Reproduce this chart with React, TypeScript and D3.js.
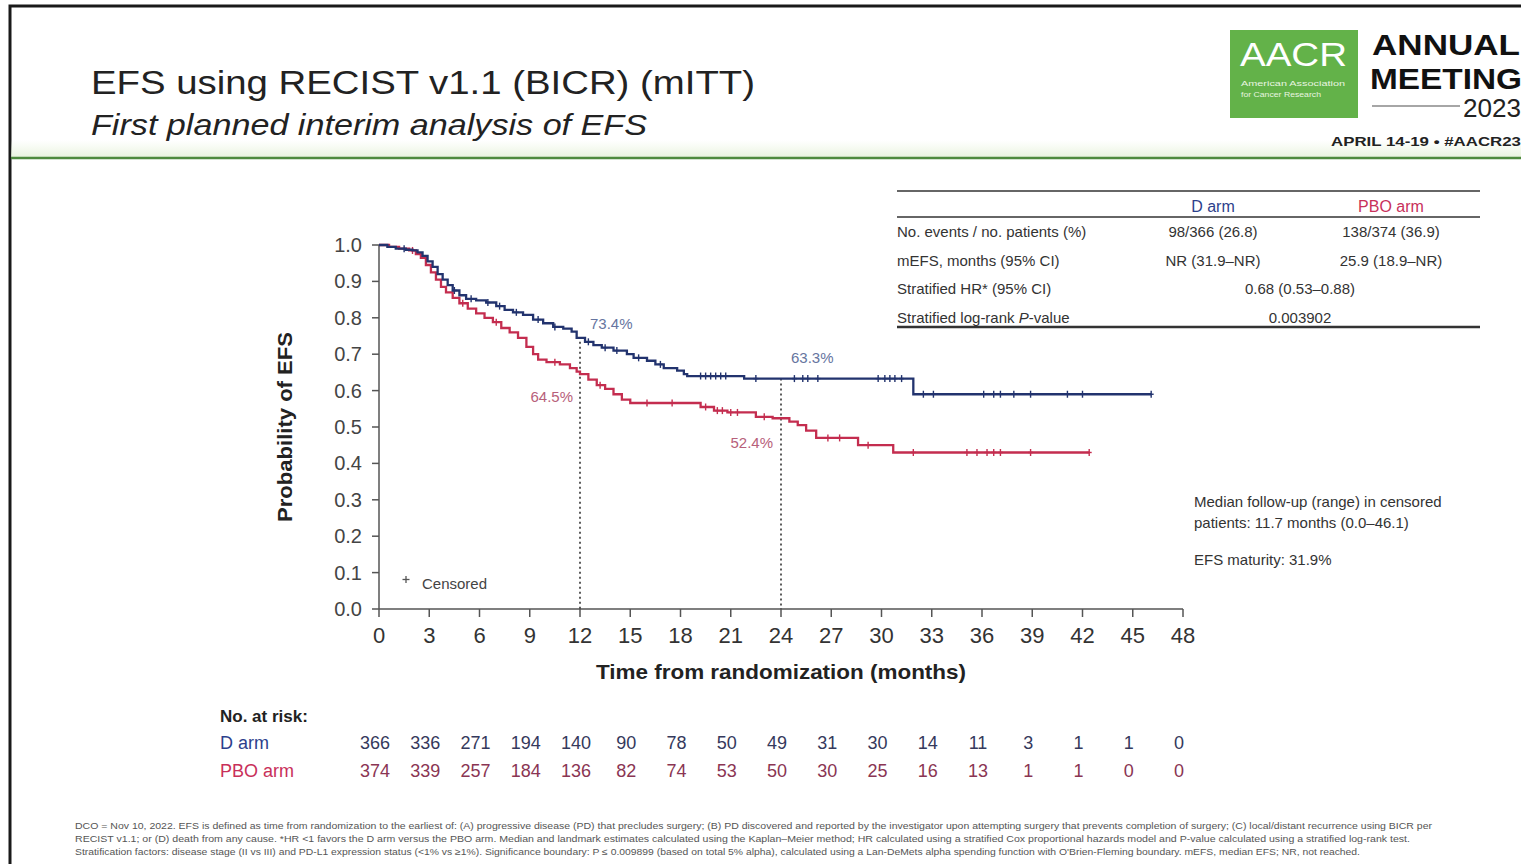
import React from "react";
import * as d3 from "d3";

const W = 1521;
const H = 864;
const FONT = "'Liberation Sans', Arial, Helvetica, sans-serif";

// Axis ticks
const xTicks = [0, 3, 6, 9, 12, 15, 18, 21, 24, 27, 30, 33, 36, 39, 42, 45, 48];
const yTicks = [0, 0.1, 0.2, 0.3, 0.4, 0.5, 0.6, 0.7, 0.8, 0.9, 1.0];
const yTickLabels = ["0.0", "0.1", "0.2", "0.3", "0.4", "0.5", "0.6", "0.7", "0.8", "0.9", "1.0"];

// Kaplan–Meier steps, D arm (time in months, survival after the step)
const dArmTimes = [0, 0.5, 1.0, 1.6, 2.0, 2.3, 2.6, 2.9, 3.2, 3.5, 3.8, 4.1, 4.4, 4.8, 5.2, 5.8, 6.4, 7.0, 7.5, 8.0, 8.6, 9.2, 9.8, 10.4, 11.0, 11.5, 11.8, 12.3, 12.8, 13.3, 14.0, 14.8, 15.2, 16.0, 16.5, 17.0, 17.8, 18.2, 18.4, 21.8, 31.9];
const dArmSurv = [1.0, 0.995, 0.99, 0.987, 0.985, 0.98, 0.97, 0.955, 0.94, 0.92, 0.905, 0.89, 0.875, 0.862, 0.852, 0.848, 0.842, 0.832, 0.822, 0.815, 0.808, 0.795, 0.785, 0.775, 0.77, 0.762, 0.745, 0.734, 0.725, 0.718, 0.71, 0.70, 0.69, 0.682, 0.672, 0.662, 0.655, 0.645, 0.64, 0.633, 0.59];
const dArmEnd = 46.1;
const dArmCensored = [1.5, 4.5, 5.5, 6.5, 7.2, 8.2, 9.5, 10.5, 12.5, 13.5, 14.2, 15.5, 16.8, 19.2, 19.5, 19.8, 20.1, 20.4, 20.7, 22.5, 24.8, 25.3, 25.6, 26.2, 29.8, 30.2, 30.5, 30.8, 31.2, 32.5, 33.1, 36.1, 36.7, 37.1, 37.9, 38.9, 41.1, 42.0, 46.1];

// Kaplan–Meier steps, PBO arm
const pboTimes = [0, 0.6, 1.2, 1.8, 2.2, 2.5, 2.8, 3.1, 3.4, 3.7, 4.0, 4.4, 4.8, 5.3, 5.8, 6.3, 6.8, 7.3, 7.8, 8.3, 8.8, 9.2, 9.5, 10.0, 10.8, 11.4, 11.8, 12.0, 12.5, 13.0, 13.5, 14.0, 14.5, 15.0, 19.2, 20.0, 20.8, 22.5, 23.5, 24.5, 25.0, 25.5, 26.1, 28.6, 30.7];
const pboSurv = [1.0, 0.995, 0.99, 0.985, 0.975, 0.965, 0.945, 0.925, 0.905, 0.885, 0.87, 0.855, 0.84, 0.825, 0.812, 0.80, 0.788, 0.772, 0.76, 0.745, 0.72, 0.70, 0.685, 0.678, 0.672, 0.662, 0.652, 0.645, 0.63, 0.615, 0.605, 0.59, 0.575, 0.566, 0.555, 0.545, 0.54, 0.528, 0.524, 0.515, 0.505, 0.49, 0.47, 0.45, 0.43];
const pboEnd = 42.4;
const pboCensored = [2.0, 5.0, 7.0, 10.5, 13.2, 16.0, 17.5, 19.5, 20.2, 20.5, 21.0, 21.4, 23.0, 26.8, 27.5, 29.2, 31.9, 35.1, 35.7, 36.3, 36.7, 37.1, 38.9, 42.4];

// Landmark estimates
const landmarkMonths = [12, 24];
const dArmLandmark = [0.734, 0.633];
const pboLandmark = [0.645, 0.524];

// Number at risk
const atRiskD = [366, 336, 271, 194, 140, 90, 78, 50, 49, 31, 30, 14, 11, 3, 1, 1, 0];
const atRiskPbo = [374, 339, 257, 184, 136, 82, 74, 53, 50, 30, 25, 16, 13, 1, 1, 0, 0];

// Summary table
const tableRows = [
  { label: "No. events / no. patients (%)", d: "98/366 (26.8)", p: "138/374 (36.9)" },
  { label: "mEFS, months (95% CI)", d: "NR (31.9\u2013NR)", p: "25.9 (18.9\u2013NR)" },
  { label: "Stratified HR* (95% CI)", both: "0.68 (0.53\u20130.88)" },
  { label: "Stratified log-rank P-value", both: "0.003902" },
];

const footnotes = [
  "DCO = Nov 10, 2022. EFS is defined as time from randomization to the earliest of: (A) progressive disease (PD) that precludes surgery; (B) PD discovered and reported by the investigator upon attempting surgery that prevents completion of surgery; (C) local/distant recurrence using BICR per",
  "RECIST v1.1; or (D) death from any cause. *HR <1 favors the D arm versus the PBO arm. Median and landmark estimates calculated using the Kaplan\u2013Meier method; HR calculated using a stratified Cox proportional hazards model and P-value calculated using a stratified log-rank test.",
  "Stratification factors: disease stage (II vs III) and PD-L1 expression status (<1% vs \u22651%). Significance boundary: P \u2264 0.009899 (based on total 5% alpha), calculated using a Lan-DeMets alpha spending function with O'Brien-Fleming boundary. mEFS, median EFS; NR, not reached.",
];
const footnoteWidths = [1357, 1335, 1285];

const BLUE = "#22336e";
const RED = "#c42d4f";
const BLUE_TXT = "#2d3f8c";
const RED_TXT = "#c8305a";

const x = d3.scaleLinear().domain([0, 48]).range([379, 1183]);
const y = d3.scaleLinear().domain([0, 1]).range([609, 245]);

function stepPoints(times: number[], surv: number[], end: number): [number, number][] {
  const pts: [number, number][] = times.map((t, i) => [t, surv[i]]);
  pts.push([end, surv[surv.length - 1]]);
  return pts;
}

function survAt(times: number[], surv: number[], t: number): number {
  const i = d3.bisectRight(times, t) - 1;
  return surv[Math.max(0, i)];
}

const line = d3
  .line<[number, number]>()
  .x((d) => x(d[0]))
  .y((d) => y(d[1]))
  .curve(d3.curveStepAfter);

function Curve({ times, surv, end, censored, color }: { times: number[]; surv: number[]; end: number; censored: number[]; color: string }) {
  const path = line(stepPoints(times, surv, end)) || "";
  return (
    <g>
      <path d={path} fill="none" stroke={color} strokeWidth={2.3} strokeLinejoin="miter" />
      {censored.map((t, i) => {
        const cx = x(t);
        const cy = y(survAt(times, surv, t));
        return (
          <g key={i} stroke={color} strokeWidth={1.4}>
            <line x1={cx} x2={cx} y1={cy - 3.5} y2={cy + 3.5} />
            <line x1={cx - 2.5} x2={cx + 2.5} y1={cy} y2={cy} />
          </g>
        );
      })}
    </g>
  );
}

export default function App() {
  return (
    <svg
      width={W}
      height={H}
      viewBox={`0 0 ${W} ${H}`}
      style={{ position: "absolute", left: 0, top: 0, background: "#fff" }}
      fontFamily={FONT}
    >
      <rect x={0} y={0} width={W} height={H} fill="#fff" />
      {/* slide frame */}
      <rect x={10} y={6} width={W + 20} height={H + 20} fill="none" stroke="#1a1a1a" strokeWidth={3} />

      {/* header */}
      <text x={91} y={94} fontSize={34} fill="#222" textLength={664} lengthAdjust="spacingAndGlyphs">
        EFS using RECIST v1.1 (BICR) (mITT)
      </text>
      <text x={91} y={135} fontSize={29} fontStyle="italic" fill="#222" textLength={556} lengthAdjust="spacingAndGlyphs">
        First planned interim analysis of EFS
      </text>
      <defs>
        <linearGradient id="haze" x1="0" x2="0" y1="0" y2="1">
          <stop offset="0" stopColor="#eaf4df" stopOpacity={0} />
          <stop offset="1" stopColor="#e3f0d6" stopOpacity={0.8} />
        </linearGradient>
      </defs>
      <rect x={11} y={140} width={W} height={17} fill="url(#haze)" />
      <line x1={11} x2={W} y1={158} y2={158} stroke="#4e8a3e" strokeWidth={2.5} />

      {/* meeting logo */}
      <rect x={1230} y={30} width={128} height={88} fill="#63b249" />
      <text x={1240} y={66} fontSize={34} fill="#fff" textLength={107} lengthAdjust="spacingAndGlyphs">
        AACR
      </text>
      <text x={1241} y={86} fontSize={7} fill="#e8f5e0" textLength={104} lengthAdjust="spacingAndGlyphs">
        American Association
      </text>
      <text x={1241} y={97} fontSize={7} fill="#e8f5e0" textLength={80} lengthAdjust="spacingAndGlyphs">
        for Cancer Research
      </text>
      <text x={1372} y={55} fontSize={30} fontWeight="bold" fill="#111" textLength={148} lengthAdjust="spacingAndGlyphs">
        ANNUAL
      </text>
      <text x={1370} y={89} fontSize={30} fontWeight="bold" fill="#111" textLength={152} lengthAdjust="spacingAndGlyphs">
        MEETING
      </text>
      <line x1={1372} x2={1460} y1={106} y2={106} stroke="#888" strokeWidth={1.5} />
      <text x={1463} y={117} fontSize={25} fill="#222" textLength={58} lengthAdjust="spacingAndGlyphs">
        2023
      </text>
      <text x={1331} y={146} fontSize={12} fontWeight="bold" fill="#222" textLength={190} lengthAdjust="spacingAndGlyphs">
        {"APRIL 14-19 \u2022 #AACR23"}
      </text>

      {/* summary table */}
      <g fontSize={15} fill="#333">
        <line x1={897} x2={1480} y1={191} y2={191} stroke="#333" strokeWidth={1.5} />
        <text x={1213} y={212} textAnchor="middle" fill={BLUE_TXT} fontSize={16}>D arm</text>
        <text x={1391} y={212} textAnchor="middle" fill={RED_TXT} fontSize={16}>PBO arm</text>
        <line x1={897} x2={1480} y1={217} y2={217} stroke="#333" strokeWidth={1.5} />
        {tableRows.map((r, i) => {
          const by = 237 + i * 28.5;
          return (
            <g key={i}>
              <text x={897} y={by}>
                {r.label.endsWith("P-value") ? (
                  <>
                    Stratified log-rank <tspan fontStyle="italic">P</tspan>-value
                  </>
                ) : (
                  r.label
                )}
              </text>
              {r.both ? (
                <text x={1300} y={by} textAnchor="middle">{r.both}</text>
              ) : (
                <>
                  <text x={1213} y={by} textAnchor="middle">{r.d}</text>
                  <text x={1391} y={by} textAnchor="middle">{r.p}</text>
                </>
              )}
            </g>
          );
        })}
        <line x1={897} x2={1480} y1={327} y2={327} stroke="#333" strokeWidth={2.5} />
      </g>

      {/* axes */}
      <g stroke="#555" strokeWidth={1.5}>
        <line x1={x(0)} x2={x(0)} y1={y(1)} y2={y(0)} />
        <line x1={x(0)} x2={x(48)} y1={y(0)} y2={y(0)} />
        {yTicks.map((t) => (
          <line key={t} x1={x(0) - 7} x2={x(0)} y1={y(t)} y2={y(t)} />
        ))}
        {xTicks.map((t) => (
          <line key={t} x1={x(t)} x2={x(t)} y1={y(0)} y2={y(0) + 8} />
        ))}
      </g>
      <g fontSize={20} fill="#444" textAnchor="end">
        {yTicks.map((t, i) => (
          <text key={t} x={x(0) - 17} y={y(t) + 7}>{yTickLabels[i]}</text>
        ))}
      </g>
      <g fontSize={22} fill="#333" textAnchor="middle">
        {xTicks.map((t) => (
          <text key={t} x={x(t)} y={643}>{t}</text>
        ))}
      </g>
      <text x={781} y={679} fontSize={21} fontWeight="bold" fill="#222" textAnchor="middle" textLength={370} lengthAdjust="spacingAndGlyphs">
        Time from randomization (months)
      </text>
      <text
        transform={`translate(292, ${y(0.5)}) rotate(-90)`}
        fontSize={20}
        fontWeight="bold"
        fill="#222"
        textAnchor="middle"
        textLength={190}
        lengthAdjust="spacingAndGlyphs"
      >
        Probability of EFS
      </text>

      {/* landmark guides */}
      {landmarkMonths.map((m, i) => (
        <line key={m} x1={x(m)} x2={x(m)} y1={y(dArmLandmark[i])} y2={y(0)} stroke="#333" strokeWidth={1.6} strokeDasharray="2,3" />
      ))}

      {/* survival curves */}
      <Curve times={pboTimes} surv={pboSurv} end={pboEnd} censored={pboCensored} color={RED} />
      <Curve times={dArmTimes} surv={dArmSurv} end={dArmEnd} censored={dArmCensored} color={BLUE} />

      {/* landmark labels */}
      <g fontSize={15}>
        <text x={x(12) + 10} y={y(dArmLandmark[0]) - 13} fill="#6675a0">{(dArmLandmark[0] * 100).toFixed(1)}%</text>
        <text x={x(12) - 7} y={y(pboLandmark[0]) + 28} fill="#b7607a" textAnchor="end">{(pboLandmark[0] * 100).toFixed(1)}%</text>
        <text x={x(24) + 10} y={y(dArmLandmark[1]) - 16} fill="#6675a0">{(dArmLandmark[1] * 100).toFixed(1)}%</text>
        <text x={x(24) - 8} y={y(pboLandmark[1]) + 30} fill="#b7607a" textAnchor="end">{(pboLandmark[1] * 100).toFixed(1)}%</text>
      </g>

      {/* censor legend */}
      <g stroke="#555" strokeWidth={1.3}>
        <line x1={406} x2={406} y1={576} y2={583} />
        <line x1={402.5} x2={409.5} y1={579.5} y2={579.5} />
      </g>
      <text x={422} y={589} fontSize={15} fill="#444">Censored</text>

      {/* side notes */}
      <g fontSize={15} fill="#333">
        <text x={1194} y={507}>Median follow-up (range) in censored</text>
        <text x={1194} y={528}>patients: 11.7 months (0.0{"\u2013"}46.1)</text>
        <text x={1194} y={565}>EFS maturity: 31.9%</text>
      </g>

      {/* number at risk */}
      <text x={220} y={722} fontSize={17} fontWeight="bold" fill="#222">No. at risk:</text>
      <text x={220} y={749} fontSize={18} fill={BLUE_TXT}>D arm</text>
      <text x={220} y={777} fontSize={18} fill={RED_TXT}>PBO arm</text>
      <g fontSize={18} textAnchor="middle">
        {atRiskD.map((n, i) => (
          <text key={`d${i}`} x={x(xTicks[i]) - 4} y={749} fill="#35395c">{n}</text>
        ))}
        {atRiskPbo.map((n, i) => (
          <text key={`p${i}`} x={x(xTicks[i]) - 4} y={777} fill="#8a3553">{n}</text>
        ))}
      </g>

      {/* footnotes */}
      <g fontSize={9} fill="#555">
        {footnotes.map((f, i) => (
          <text key={i} x={75} y={829 + i * 13} textLength={footnoteWidths[i]} lengthAdjust="spacingAndGlyphs">
            {f}
          </text>
        ))}
      </g>
    </svg>
  );
}
